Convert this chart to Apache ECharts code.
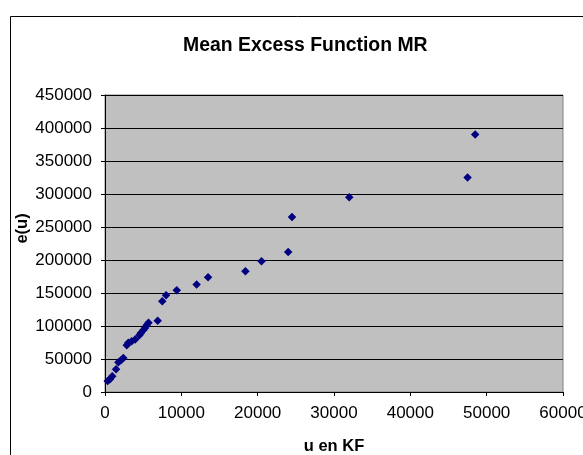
<!DOCTYPE html>
<html><head><meta charset="utf-8">
<script src="https://cdn.jsdelivr.net/npm/echarts@6/dist/echarts.min.js"></script>
<style>html,body{margin:0;padding:0;background:#fff}#c{width:583px;height:455px}</style>
</head><body><div id="c"></div>
<script>
const titleText = "Mean Excess Function MR";
const xName = "u en KF";
const yName = "e(u)";
const uValues = [350, 650, 950, 1450, 1750, 2100, 2400, 2850, 3050, 3500, 3950, 4500, 4700, 5000, 5250, 5450, 5700, 6900, 7500, 8000, 9400, 12000, 13500, 18400, 20500, 24000, 24500, 32000, 47500, 48500];
const eValues = [16500, 19500, 24000, 34500, 45000, 48000, 51500, 71000, 74500, 77000, 79500, 86000, 89500, 93500, 97000, 101000, 105000, 108000, 137500, 146500, 154000, 163000, 174000, 183000, 198000, 212000, 265000, 295000, 325000, 390000];

const data = uValues.map((u, i) => [u, eValues[i]]);
const font = "'Liberation Sans', Arial, sans-serif";
const chart = echarts.init(document.getElementById('c'), null, {renderer: 'canvas'});
chart.setOption({
  backgroundColor: '#ffffff',
  animation: false,
  title: {text: titleText, left: 178, top: 31, textStyle: {fontFamily: font, fontWeight: 'bold', fontSize: 19.4, color: '#000'}},
  graphic: [{type: 'rect', left: 8, top: 14, shape: {width: 620, height: 500}, style: {fill: 'none', stroke: '#000', lineWidth: 1}, z: -1}],
  grid: {left: 105, top: 95, right: 20, bottom: 63, show: true, outerBoundsMode: 'none', containLabel: false, backgroundColor: '#C0C0C0', borderColor: '#808080', borderWidth: 1},
  xAxis: {
    type: 'value', min: 0, max: 60000, interval: 10000,
    name: xName, nameLocation: 'middle', nameGap: 46,
    nameTextStyle: {fontFamily: font, fontWeight: 'bold', fontSize: 16.5, color: '#000'},
    axisLine: {show: true, onZero: false, lineStyle: {color: '#000'}},
    axisTick: {show: true, length: 4, lineStyle: {color: '#000'}},
    axisLabel: {fontFamily: font, fontSize: 17, color: '#000', margin: 13, formatter: v => String(v)},
    splitLine: {show: false}
  },
  yAxis: {
    type: 'value', min: 0, max: 450000, interval: 50000,
    name: yName, nameLocation: 'middle', nameGap: 74, nameRotate: 90, nameMoveOverlap: false,
    nameTextStyle: {fontFamily: font, fontWeight: 'bold', fontSize: 16.5, color: '#000', padding: [0, 0, 0, 30]},
    axisLine: {show: true, lineStyle: {color: '#000'}},
    axisTick: {show: true, length: 4, lineStyle: {color: '#000'}},
    axisLabel: {fontFamily: font, fontSize: 17, color: '#000', margin: 13, formatter: v => String(v)},
    splitLine: {show: true, lineStyle: {color: '#000', width: 1}}
  },
  series: [{
    type: 'scatter', data: data, symbol: 'diamond', symbolSize: 8.5,
    itemStyle: {color: '#000080', opacity: 1}
  }]
});
</script></body></html>
